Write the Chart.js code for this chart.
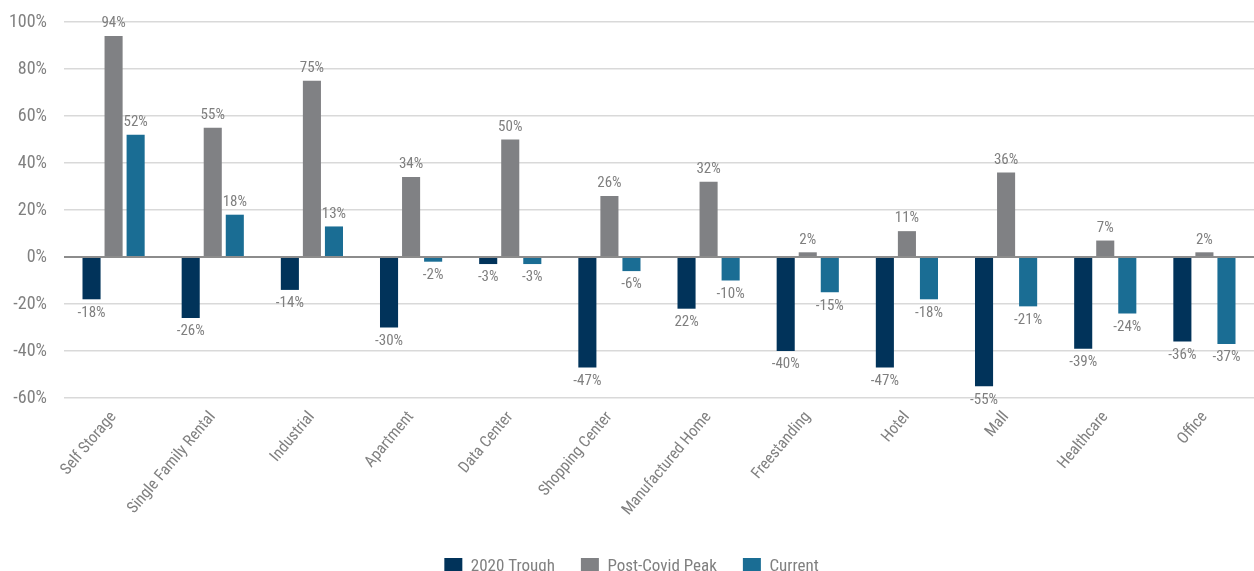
<!DOCTYPE html>
<html>
<head>
<meta charset="utf-8">
<script src="https://cdn.jsdelivr.net/npm/chart.js@4"></script>
<style>
html,body{margin:0;padding:0;background:#fff;overflow:hidden;}
#wrap{width:1254px;height:586px;}
</style>
</head>
<body>
<div id="wrap"><canvas id="c" width="1254" height="586"></canvas></div>
<script>
const categories = ["Self Storage","Single Family Rental","Industrial","Apartment","Data Center","Shopping Center","Manufactured Home","Freestanding","Hotel","Mall","Healthcare","Office"];
const trough = [-18,-26,-14,-30,-3,-47,-22,-40,-47,-55,-39,-36];
const peak = [94,55,75,34,50,26,32,2,11,36,7,2];
const current = [52,18,13,-2,-3,-6,-10,-15,-18,-21,-24,-37];
const troughLabels = ["-18%","-26%","-14%","-30%","-3%","-47%","22%","-40%","-47%","-55%","-39%","-36%"];
const yTicks = [-60,-40,-20,0,20,40,60,80,100];
const seriesNames = ["2020 Trough","Post-Covid Peak","Current"];

const FONT = "'Liberation Sans Narrow','Roboto Condensed','Arial Narrow',Roboto,sans-serif";
const TXT = '#808080';

const labelPlugin = {
  id: 'valueLabels',
  afterDatasetsDraw(chart) {
    const ctx = chart.ctx;
    ctx.save();
    ctx.font = '15px ' + FONT;
    ctx.fillStyle = '#7f7f7f';
    ctx.textAlign = 'center';
    chart.data.datasets.forEach((ds, di) => {
      const meta = chart.getDatasetMeta(di);
      meta.data.forEach((bar, i) => {
        const v = ds.data[i];
        const txt = ds.valueLabels ? ds.valueLabels[i] : (v + '%');
        if (v >= 0) {
          ctx.textBaseline = 'bottom';
          ctx.fillText(txt, bar.x, bar.y - 5);
        } else {
          ctx.textBaseline = 'top';
          ctx.fillText(txt, bar.x, bar.y + 6);
        }
      });
    });
    ctx.restore();
  }
};

new Chart(document.getElementById('c'), {
  type: 'bar',
  data: {
    labels: categories,
    datasets: [
      {label: seriesNames[0], data: trough, valueLabels: troughLabels, backgroundColor: '#01335a'},
      {label: seriesNames[1], data: peak, backgroundColor: '#808184'},
      {label: seriesNames[2], data: current, backgroundColor: '#1a6d94'}
    ]
  },
  options: {
    responsive: false,
    animation: false,
    layout: {padding: {left: 9, top: 22, right: 0, bottom: 0}},
    datasets: {bar: {categoryPercentage: 0.667, barPercentage: 0.82}},
    plugins: {
      tooltip: {enabled: false},
      legend: {
        position: 'bottom',
        labels: {
          font: {family: FONT, size: 17},
          color: TXT,
          boxWidth: 18,
          boxHeight: 18,
          padding: 26
        }
      }
    },
    scales: {
      x: {
        grid: {display: false},
        border: {display: false},
        ticks: {
          font: {family: FONT, size: 16},
          color: TXT,
          minRotation: 50,
          maxRotation: 50,
          padding: 2
        },
        afterFit(scale) { scale.height = 134; }
      },
      y: {
        min: -60, max: 100,
        afterBuildTicks(scale) { scale.ticks = yTicks.map(v => ({value: v})); },
        border: {display: false},
        grid: {
          drawTicks: false,
          lineWidth: (c) => c.tick && c.tick.value === 0 ? 2 : 1.5,
          color: (c) => c.tick && c.tick.value === 0 ? '#8c8c8c' : '#d9d9d9'
        },
        ticks: {
          font: {family: FONT, size: 18},
          color: TXT,
          padding: 17,
          callback: (v) => v + '%'
        },
        afterFit(scale) { scale.width = 55; scale.paddingTop = 10; scale.paddingBottom = 10; }
      }
    }
  },
  plugins: [labelPlugin]
});
</script>
</body>
</html>
